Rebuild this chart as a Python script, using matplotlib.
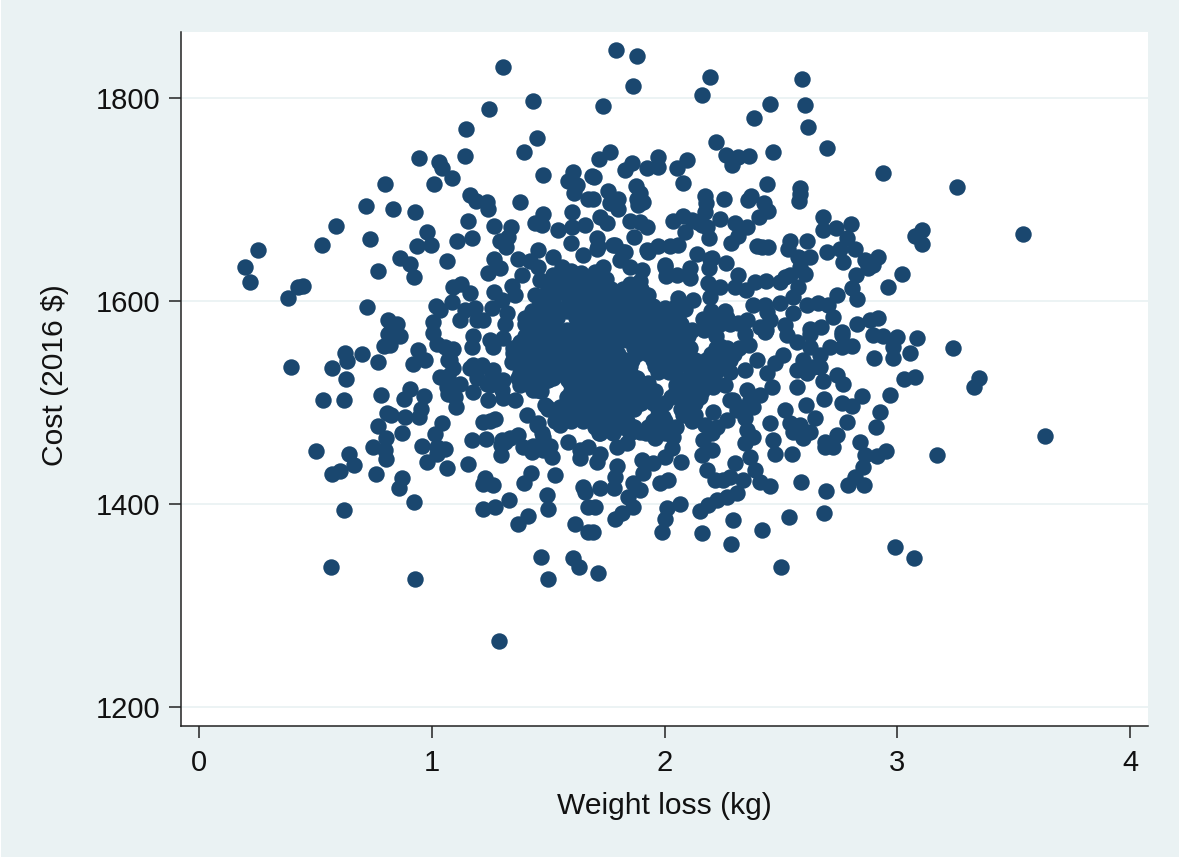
import matplotlib

matplotlib.use("Agg")
import matplotlib.pyplot as plt
from matplotlib.patches import Rectangle
import numpy as np

# (weight loss in kg, cost in 2016 $)
upper_left = [
    (1.306, 1830.5), (1.434, 1797), (1.246, 1789), (1.147, 1770), (1.451, 1761), (1.144, 1743.5), (1.398, 1747),
    (0.947, 1741), (1.033, 1737.6), (1.043, 1731), (1.086, 1721), (1.011, 1715.6), (1.479, 1724), (0.799, 1715.6),
    (0.719, 1694), (0.835, 1691), (0.928, 1688), (0.587, 1674), (0.253, 1650.6), (0.198, 1633.5), (0.218, 1619),
    (0.530, 1655.5), (0.735, 1661.4), (0.978, 1668.6), (0.935, 1654.5), (0.995, 1655), (1.107, 1659), (1.171, 1662),
    (1.154, 1679), (1.164, 1705), (1.190, 1699), (1.236, 1697.5), (1.243, 1691), (1.379, 1698), (1.269, 1674),
    (1.342, 1673.5), (1.329, 1663.7), (1.293, 1659.8), (1.319, 1653), (1.479, 1686), (1.444, 1677), (1.472, 1675),
    (1.602, 1688), (1.544, 1670), (1.601, 1673.5), (1.600, 1657), (1.658, 1675), (1.608, 1727.7), (1.587, 1719),
    (1.623, 1714.6), (1.613, 1707), (1.673, 1701), (1.687, 1723), (0.864, 1643), (0.906, 1636.4), (0.925, 1624),
    (1.067, 1640), (0.770, 1630), (0.448, 1615), (0.427, 1614.4), (0.384, 1603.6), (0.723, 1594), (0.813, 1582),
    (0.849, 1578), (0.825, 1572), (1.004, 1580), (1.017, 1595.4), (1.036, 1591.4), (1.093, 1614.4), (1.124, 1617),
    (1.164, 1608.5), (1.086, 1599.6), (1.186, 1593), (1.143, 1591.4), (1.121, 1581.6), (1.193, 1581.6),
    (1.222, 1581.6), (1.267, 1642), (1.240, 1627.6), (1.293, 1633), (1.372, 1642), (1.422, 1640), (1.455, 1650.6),
    (1.522, 1644), (1.651, 1645.6), (1.386, 1626), (1.458, 1634), (1.343, 1615), (1.267, 1609.5), (1.358, 1606),
    (1.300, 1601), (1.257, 1593), (1.322, 1588), (1.315, 1578), (1.401, 1578), (1.444, 1606), (1.465, 1621),
    (1.522, 1626), (1.501, 1611), (1.560, 1634), (1.600, 1630), (1.640, 1628),
]

upper_right = [
    (1.790, 1847.6), (1.880, 1842), (1.863, 1811.8), (1.737, 1792.4), (2.196, 1821.3), (2.161, 1803), (2.592, 1818.7),
    (2.602, 1793.7), (2.453, 1794), (2.385, 1781), (2.618, 1772), (2.698, 1751.4), (2.221, 1756.6), (2.263, 1744),
    (2.290, 1734.3), (2.317, 1742), (2.365, 1742.8), (2.465, 1746.8), (2.937, 1726.7), (3.255, 1713), (1.766, 1747.4),
    (1.717, 1740.5), (1.859, 1736), (1.830, 1729.4), (1.923, 1731), (1.974, 1742), (1.971, 1732), (2.095, 1739),
    (2.052, 1731), (2.080, 1717), (1.699, 1722.8), (1.876, 1713.6), (1.895, 1706.4), (1.880, 1701), (1.909, 1698),
    (1.885, 1695), (1.759, 1708.7), (1.802, 1701), (1.691, 1700.8), (1.766, 1696.5), (1.802, 1691), (1.723, 1683),
    (1.752, 1677), (2.174, 1703.8), (2.178, 1696.5), (2.174, 1688), (2.257, 1700.5), (2.372, 1704), (2.360, 1700),
    (2.439, 1716), (2.429, 1697), (2.446, 1689), (2.406, 1683.4), (2.582, 1712), (2.582, 1706), (2.579, 1699),
    (1.852, 1679.4), (1.895, 1678.5), (1.926, 1673.5), (1.870, 1663), (2.038, 1679), (2.080, 1684), (2.088, 1668.6),
    (2.138, 1678.5), (2.181, 1673.5), (2.191, 1662), (2.239, 1680.8), (2.303, 1677.5), (2.353, 1673.5),
    (2.317, 1664.7), (2.286, 1657.8), (2.396, 1654), (2.446, 1653), (2.418, 1653), (2.539, 1659.4), (2.529, 1652),
    (2.614, 1659.4), (2.680, 1683.4), (2.683, 1670), (2.735, 1672), (2.803, 1676), (2.783, 1662), (2.819, 1652),
    (2.700, 1649), (2.768, 1639), (2.625, 1644), (2.582, 1642.3), (2.862, 1640.7), (2.919, 1644), (2.897, 1635.8),
    (2.876, 1632.5), (3.019, 1627), (2.959, 1613.8), (2.823, 1626), (2.807, 1612.8), (2.826, 1602), (2.743, 1606),
    (2.704, 1596.4), (2.661, 1598), (2.725, 1585), (2.611, 1596.4), (2.604, 1627), (2.539, 1626), (2.575, 1614.4),
    (2.496, 1619.4), (2.435, 1620.3), (2.389, 1618.7), (2.317, 1626), (2.303, 1614.4), (2.350, 1611), (2.382, 1596.4),
    (2.432, 1596.4), (2.496, 1598), (2.554, 1588), (2.554, 1604.6), (2.263, 1638), (2.196, 1642), (2.138, 1646.6),
    (2.110, 1632.5), (2.193, 1632.5), (2.060, 1655.5), (2.024, 1654), (1.974, 1654), (1.923, 1650.6), (1.787, 1655.5),
    (1.823, 1649), (1.716, 1654), (1.737, 1634), (2.052, 1626), (2.002, 1636), (2.007, 1625), (2.110, 1622.6),
    (2.060, 1603), (2.124, 1601), (2.188, 1617.7), (2.239, 1614.4), (2.196, 1604.6), (2.260, 1590), (2.167, 1583),
    (2.317, 1579), (2.353, 1581.6), (2.453, 1581.6), (2.518, 1576.6), (2.625, 1573), (2.671, 1575), (2.826, 1578),
    (2.883, 1581.6), (2.919, 1584), (2.761, 1570), (1.902, 1631), (1.895, 1620), (1.852, 1634), (1.809, 1640.7),
]

lower_left = [
    (0.394, 1535.6), (0.573, 1534), (0.627, 1548.7), (0.637, 1541), (0.700, 1547.7), (0.632, 1523.4), (0.768, 1540),
    (0.796, 1556.3), (0.821, 1557), (0.864, 1566), (0.813, 1568), (0.534, 1503), (0.624, 1502.4), (0.780, 1508),
    (0.907, 1514), (0.881, 1503.4), (0.968, 1506.7), (0.952, 1493.5), (0.947, 1485.7), (0.885, 1485.7),
    (0.806, 1489.6), (0.825, 1488), (0.770, 1477), (0.803, 1465), (0.871, 1470), (1.043, 1480.4), (1.014, 1469),
    (0.957, 1457.7), (1.021, 1456.7), (1.057, 1454), (1.021, 1449.5), (0.978, 1442), (1.064, 1435.4), (1.157, 1439.4),
    (1.172, 1463.3), (1.232, 1464.3), (1.222, 1481.4), (1.272, 1483.7), (1.250, 1482.4), (1.372, 1468), (1.315, 1461.7),
    (1.336, 1465), (1.296, 1458.4), (1.296, 1448.5), (1.393, 1456.8), (1.429, 1451.8), (1.479, 1453.5), (1.515, 1447),
    (1.479, 1466.6), (1.408, 1488), (1.458, 1479.7), (1.472, 1470), (1.551, 1478), (1.587, 1461.7), (1.637, 1453.5),
    (1.637, 1445.3), (1.673, 1456.8), (0.746, 1456), (0.799, 1453.5), (0.802, 1444.3), (0.646, 1449.5),
    (0.666, 1438.7), (0.606, 1433), (0.570, 1429.5), (0.501, 1452.8), (0.759, 1429.5), (0.871, 1425.6), (0.861, 1415.7),
    (0.925, 1402), (0.624, 1394), (0.569, 1338), (0.928, 1326), (1.229, 1425.6), (1.222, 1420), (1.262, 1419),
    (1.425, 1431), (1.398, 1420.6), (1.531, 1429), (1.497, 1409), (1.501, 1395), (1.332, 1404), (1.222, 1395.4),
    (1.272, 1397.6), (1.415, 1388.4), (1.372, 1380.3), (1.617, 1380.6), (1.651, 1417.4), (1.658, 1412.4),
    (1.673, 1397.6), (1.673, 1373), (1.468, 1347.7), (1.608, 1346.7), (1.634, 1338), (1.498, 1326.4), (0.942, 1552),
    (0.971, 1542), (0.921, 1538), (1.021, 1557.6), (1.057, 1555.3), (1.093, 1552.7), (1.071, 1542), (1.172, 1554.6),
    (1.179, 1566), (1.007, 1569), (1.250, 1562), (1.265, 1555), (1.308, 1563.5), (1.379, 1558.6), (1.343, 1540),
    (1.035, 1525.7), (1.093, 1534), (1.064, 1516), (1.100, 1506), (1.103, 1496), (1.179, 1537), (1.214, 1537),
    (1.265, 1532), (1.179, 1511), (1.193, 1524), (1.243, 1502.7), (1.250, 1517.5), (1.308, 1522.4), (1.308, 1504.4),
    (1.358, 1502.7), (1.372, 1524), (1.437, 1512.6), (1.479, 1524), (1.501, 1522.4), (1.487, 1497.8), (1.551, 1496),
    (1.587, 1522.4), (1.623, 1509), (1.522, 1539), (1.408, 1542), (1.451, 1552), (1.290, 1265),
]

lower_right = [
    (3.241, 1554.3), (3.172, 1449), (3.353, 1524.7), (3.331, 1515.9), (3.083, 1563.5), (3.055, 1549), (2.983, 1543.8),
    (2.902, 1544.4), (2.983, 1555.3), (2.998, 1565), (2.940, 1565.8), (2.897, 1566.8), (3.076, 1525.7), (3.029, 1523.4),
    (2.969, 1507.3), (2.850, 1506.3), (2.804, 1496.8), (2.761, 1500), (2.685, 1503.7), (2.608, 1497.8), (2.926, 1490.6),
    (2.907, 1476.5), (2.784, 1480.7), (2.647, 1484.7), (2.518, 1492.9), (2.453, 1479.7), (2.539, 1479.7), (2.582, 1478),
    (2.625, 1471.5), (2.597, 1465), (2.740, 1468), (2.690, 1461.7), (2.725, 1456.8), (2.690, 1456.8), (2.840, 1461.7),
    (2.861, 1448.5), (2.912, 1447.6), (2.950, 1452.8), (2.854, 1436.4), (2.819, 1427.2), (2.787, 1419), (2.859, 1419),
    (2.693, 1413), (2.587, 1422), (2.546, 1450), (2.475, 1449.5), (2.468, 1463.3), (2.453, 1418.3), (2.410, 1422.3),
    (2.389, 1433.8), (2.367, 1446.9), (2.346, 1460), (2.353, 1473), (2.346, 1484.7), (2.310, 1410.8), (2.267, 1407.5),
    (2.224, 1404), (2.188, 1399.3), (2.153, 1393.7), (2.067, 1400), (2.009, 1396), (2.002, 1386), (1.988, 1373),
    (1.866, 1397.6), (1.845, 1407.5), (1.816, 1391), (1.787, 1385.5), (1.701, 1397.6), (1.691, 1373), (1.723, 1415.7),
    (1.783, 1415.7), (1.795, 1437.7), (1.787, 1427), (1.895, 1414), (1.866, 1420.6), (1.909, 1430.5), (1.981, 1420.6),
    (2.017, 1424), (2.071, 1442), (2.002, 1447), (1.952, 1440.3), (1.902, 1443.6), (2.296, 1384.5), (2.161, 1371.4),
    (2.286, 1360.9), (2.418, 1374.7), (2.534, 1387.1), (2.687, 1391), (2.990, 1357.6), (3.071, 1347), (2.501, 1338),
    (1.716, 1332), (2.303, 1440.3), (2.281, 1427.2), (2.339, 1424), (2.217, 1424), (2.253, 1424), (2.181, 1433.8),
    (2.160, 1448.5), (2.203, 1453.5), (2.167, 1463.3), (2.203, 1470), (2.174, 1478), (2.210, 1491), (2.267, 1483),
    (2.310, 1493), (2.281, 1502.7), (2.353, 1512.6), (2.410, 1507.7), (2.382, 1496), (2.460, 1516), (2.439, 1529),
    (2.475, 1539), (2.511, 1547), (2.396, 1542), (2.365, 1557), (2.346, 1532), (2.568, 1516), (2.683, 1521),
    (2.768, 1519), (2.740, 1527), (2.668, 1535.6), (2.611, 1529), (2.568, 1532), (2.597, 1542), (2.625, 1555),
    (2.568, 1560), (2.525, 1567), (2.804, 1556), (2.761, 1555), (2.711, 1555), (2.668, 1547), (2.761, 1567),
    (2.432, 1570), (2.346, 1568), (2.625, 1568), (2.038, 1466.6), (1.959, 1465), (1.895, 1471.5), (1.838, 1460),
    (1.795, 1456.8), (1.723, 1450), (1.709, 1442), (2.031, 1455), (1.995, 1486), (1.966, 1480), (2.110, 1493),
    (2.210, 1515.9), (2.260, 1517.5), (2.153, 1506), (2.095, 1496), (1.923, 1506), (1.823, 1476.5), (1.766, 1480),
    (1.723, 1470),
]

# far right outliers and the marks that the first reading missed
far_right = [
    (3.076, 1664.7), (3.105, 1670), (3.108, 1656), (3.540, 1666.5), (3.635, 1467),
]

second_reading = [
    (1.078, 1542), (1.071, 1526), (1.121, 1519), (1.071, 1509), (1.207, 1535.6), (1.164, 1534), (1.257, 1529),
    (1.236, 1519), (1.300, 1512.6), (1.350, 1549), (1.379, 1529), (1.451, 1512.7), (1.494, 1522.5), (1.494, 1496),
    (1.451, 1478), (1.437, 1457), (1.300, 1463), (1.508, 1457), (1.708, 1662), (1.708, 1652), (1.701, 1629),
    (1.780, 1655.5), (1.830, 1649), (1.930, 1649), (2.117, 1680), (2.160, 1675), (2.203, 1643), (2.002, 1634),
    (2.439, 1589.8), (2.410, 1575), (2.436, 1571.8), (2.575, 1644), (2.582, 1634), (2.518, 1624), (2.754, 1652),
    (2.382, 1466.7), (2.553, 1471.6), (2.640, 1535.6), (2.296, 1503), (2.324, 1496), (2.367, 1503), (2.224, 1476.5),
    (1.880, 1548), (1.930, 1520), (1.860, 1542), (1.960, 1536), (1.960, 1512), (1.840, 1562), (1.790, 1556),
]

# dense middle of the cloud, rows read roughly top to bottom
centre = [
    (1.56, 1622), (1.61, 1622), (1.66, 1622), (1.70, 1622), (1.75, 1622),
    (1.50, 1612), (1.58, 1612), (1.63, 1612), (1.68, 1612), (1.72, 1612), (1.77, 1612), (1.82, 1612), (1.90, 1612),
    (1.48, 1600), (1.59, 1600), (1.63, 1600), (1.68, 1600), (1.72, 1600), (1.80, 1600), (1.84, 1600), (1.90, 1600),
    (1.43, 1590), (1.50, 1590), (1.58, 1590), (1.62, 1590), (1.67, 1590), (1.71, 1590), (1.77, 1590), (1.82, 1590),
    (1.87, 1590), (1.92, 1590), (1.97, 1590), (2.03, 1590), (2.09, 1592), (2.20, 1590),
    (1.42, 1578), (1.47, 1578), (1.52, 1578), (1.64, 1578), (1.69, 1578), (1.74, 1578), (1.79, 1578),
    (1.84, 1578), (1.89, 1578), (1.94, 1578), (1.99, 1578), (2.04, 1578), (2.07, 1578), (2.18, 1578), (2.24, 1578),
    (2.28, 1578),
    (1.40, 1566), (1.45, 1566), (1.50, 1566), (1.55, 1566), (1.60, 1566), (1.65, 1566), (1.70, 1566), (1.75, 1566),
    (1.80, 1566), (1.85, 1566), (1.90, 1566), (1.95, 1566), (2.00, 1566), (2.05, 1566), (2.10, 1566), (2.22, 1566),
    (1.35, 1554), (1.41, 1554), (1.46, 1554), (1.51, 1554), (1.56, 1554), (1.61, 1554), (1.66, 1554), (1.71, 1554),
    (1.76, 1554), (1.87, 1554), (1.92, 1554), (1.97, 1554), (2.02, 1554), (2.07, 1554), (2.11, 1554), (2.22, 1554),
    (2.27, 1554), (2.32, 1554),
    (1.36, 1542), (1.43, 1542), (1.48, 1542), (1.53, 1542), (1.58, 1542), (1.63, 1542), (1.68, 1542), (1.73, 1542),
    (1.78, 1542), (1.83, 1542), (1.95, 1542), (2.00, 1542), (2.05, 1542), (2.13, 1542), (2.18, 1542), (2.23, 1542),
    (2.28, 1542),
    (1.43, 1530), (1.50, 1530), (1.55, 1530), (1.60, 1530), (1.65, 1530), (1.70, 1530), (1.75, 1530), (1.80, 1530),
    (1.85, 1530), (1.97, 1530), (2.02, 1530), (2.12, 1530), (2.17, 1530), (2.22, 1530), (2.28, 1530),
    (1.38, 1518), (1.42, 1518), (1.60, 1518), (1.65, 1518), (1.70, 1518), (1.75, 1518), (1.80, 1518),
    (1.85, 1518), (1.90, 1518), (2.05, 1518), (2.10, 1518), (2.15, 1518),
    (1.58, 1506), (1.63, 1506), (1.68, 1506), (1.73, 1506), (1.78, 1506), (1.83, 1506), (1.88, 1506),
    (1.91, 1506), (2.03, 1506), (2.08, 1506), (2.14, 1506),
    (1.50, 1494), (1.57, 1494), (1.62, 1494), (1.67, 1494), (1.72, 1494), (1.77, 1494), (1.82, 1494), (1.87, 1494),
    (1.97, 1494), (2.07, 1494),
    (1.53, 1482), (1.60, 1482), (1.65, 1482), (1.70, 1482), (1.75, 1482), (1.80, 1482), (1.84, 1482), (1.95, 1482),
    (2.00, 1482), (2.12, 1482),
    (1.72, 1470), (1.78, 1470), (1.85, 1470), (1.92, 1470), (2.00, 1470),
]

# second pass over the middle, the marks lying between the rows above
centre_between = [
    (1.53, 1617), (1.59, 1617), (1.64, 1617), (1.69, 1617), (1.74, 1617), (1.85, 1617),
    (1.53, 1606), (1.60, 1606), (1.66, 1606), (1.70, 1606), (1.75, 1606), (1.83, 1606), (1.88, 1606), (1.93, 1606),
    (1.46, 1595), (1.53, 1595), (1.60, 1595), (1.65, 1595), (1.69, 1595), (1.74, 1595), (1.80, 1595), (1.85, 1595),
    (1.90, 1595), (1.95, 1595), (2.00, 1593), (2.05, 1595),
    (1.40, 1584), (1.45, 1584), (1.50, 1584), (1.54, 1584), (1.62, 1584), (1.67, 1584), (1.72, 1584), (1.77, 1584),
    (1.82, 1584), (1.87, 1584), (1.92, 1584), (1.97, 1584), (2.02, 1584), (2.06, 1584), (2.22, 1584), (2.27, 1584),
    (1.43, 1572), (1.48, 1572), (1.53, 1572), (1.58, 1572), (1.63, 1572), (1.68, 1572), (1.72, 1572), (1.77, 1572),
    (1.82, 1572), (1.87, 1572), (1.92, 1572), (1.97, 1572), (2.02, 1572), (2.07, 1572), (2.12, 1572), (2.17, 1572),
    (2.21, 1572),
    (1.38, 1560), (1.43, 1560), (1.48, 1560), (1.53, 1560), (1.58, 1560), (1.63, 1560), (1.68, 1560), (1.73, 1560),
    (1.78, 1560), (1.88, 1560), (1.93, 1560), (1.98, 1560), (2.03, 1560), (2.08, 1560), (2.24, 1556),
    (1.38, 1548), (1.45, 1548), (1.50, 1548), (1.55, 1548), (1.60, 1548), (1.65, 1548), (1.70, 1548), (1.75, 1548),
    (1.80, 1548), (1.93, 1548), (1.98, 1548), (2.03, 1548), (2.08, 1548), (2.20, 1548), (2.25, 1548), (2.30, 1548),
    (1.40, 1536), (1.46, 1536), (1.52, 1536), (1.57, 1536), (1.62, 1536), (1.67, 1536), (1.72, 1536), (1.77, 1536),
    (1.82, 1536), (1.85, 1536), (2.00, 1536), (2.05, 1536), (2.10, 1536), (2.15, 1536), (2.20, 1536), (2.25, 1536),
    (1.40, 1524), (1.45, 1524), (1.52, 1524), (1.58, 1524), (1.63, 1524), (1.68, 1524), (1.73, 1524), (1.78, 1524),
    (1.83, 1524), (1.88, 1524), (2.06, 1524), (2.11, 1524), (2.16, 1524), (2.21, 1524),
    (1.47, 1512), (1.60, 1512), (1.65, 1512), (1.70, 1512), (1.75, 1512), (1.80, 1512), (1.85, 1512), (1.90, 1512),
    (2.05, 1512), (2.10, 1512), (2.16, 1512),
    (1.60, 1500), (1.65, 1500), (1.70, 1500), (1.75, 1500), (1.80, 1500), (1.85, 1500), (1.90, 1500), (1.95, 1500),
    (2.00, 1500), (2.08, 1500), (2.13, 1500),
    (1.55, 1488), (1.62, 1488), (1.67, 1488), (1.72, 1488), (1.77, 1488), (1.82, 1488), (1.97, 1488), (2.08, 1488),
    (2.13, 1488),
    (1.70, 1476), (1.75, 1476), (1.80, 1476), (1.87, 1476), (1.93, 1476), (1.98, 1476), (2.05, 1476),
]

x_ticks = [0, 1, 2, 3, 4]
y_ticks = [1200, 1400, 1600, 1800]

plt.rcParams["font.family"] = ["Liberation Sans", "DejaVu Sans"]

NAVY = "#1a476f"
PALE = "#eaf2f3"
W, H = 1181, 859

fig = plt.figure(figsize=(W / 100, H / 100), dpi=100, facecolor="white")
fig.add_artist(Rectangle((1 / W, 2 / H), 1178 / W, 857 / H, transform=fig.transFigure,
                         facecolor=PALE, edgecolor="none", zorder=-1))
ax = fig.add_axes([181 / W, (H - 726) / H, (1148 - 181) / W, (726 - 32) / H])
ax.set_facecolor("white")

points = np.array(upper_left + upper_right + lower_left + lower_right + far_right + second_reading
                  + centre + centre_between)
ax.set_axisbelow(True)
ax.yaxis.grid(True, color=PALE, linewidth=1.3)
ax.xaxis.grid(False)
ax.scatter(points[:, 0], points[:, 1], s=140, color=NAVY, linewidths=0, clip_on=False, zorder=3)

ax.set_xlim(-0.0773, 4.0773)
ax.set_ylim(1181.6, 1865.3)
ax.set_xticks(x_ticks)
ax.set_yticks(y_ticks)
ax.tick_params(length=8.6, width=1.1, color="#222222", labelsize=21, labelcolor="#111111")
ax.tick_params(axis="x", pad=8)
ax.tick_params(axis="y", pad=6.5)
for side in ["top", "right"]:
    ax.spines[side].set_visible(False)
for side in ["left", "bottom"]:
    ax.spines[side].set_linewidth(1.1)
    ax.spines[side].set_color("#222222")

ax.set_xlabel("Weight loss (kg)", fontsize=21.6, color="#111111", labelpad=10.5)
ax.set_ylabel("Cost (2016 $)", fontsize=21.6, color="#111111", labelpad=19, y=0.505)

fig.savefig("out.png", dpi=100, facecolor=fig.get_facecolor())
plt.close(fig)
